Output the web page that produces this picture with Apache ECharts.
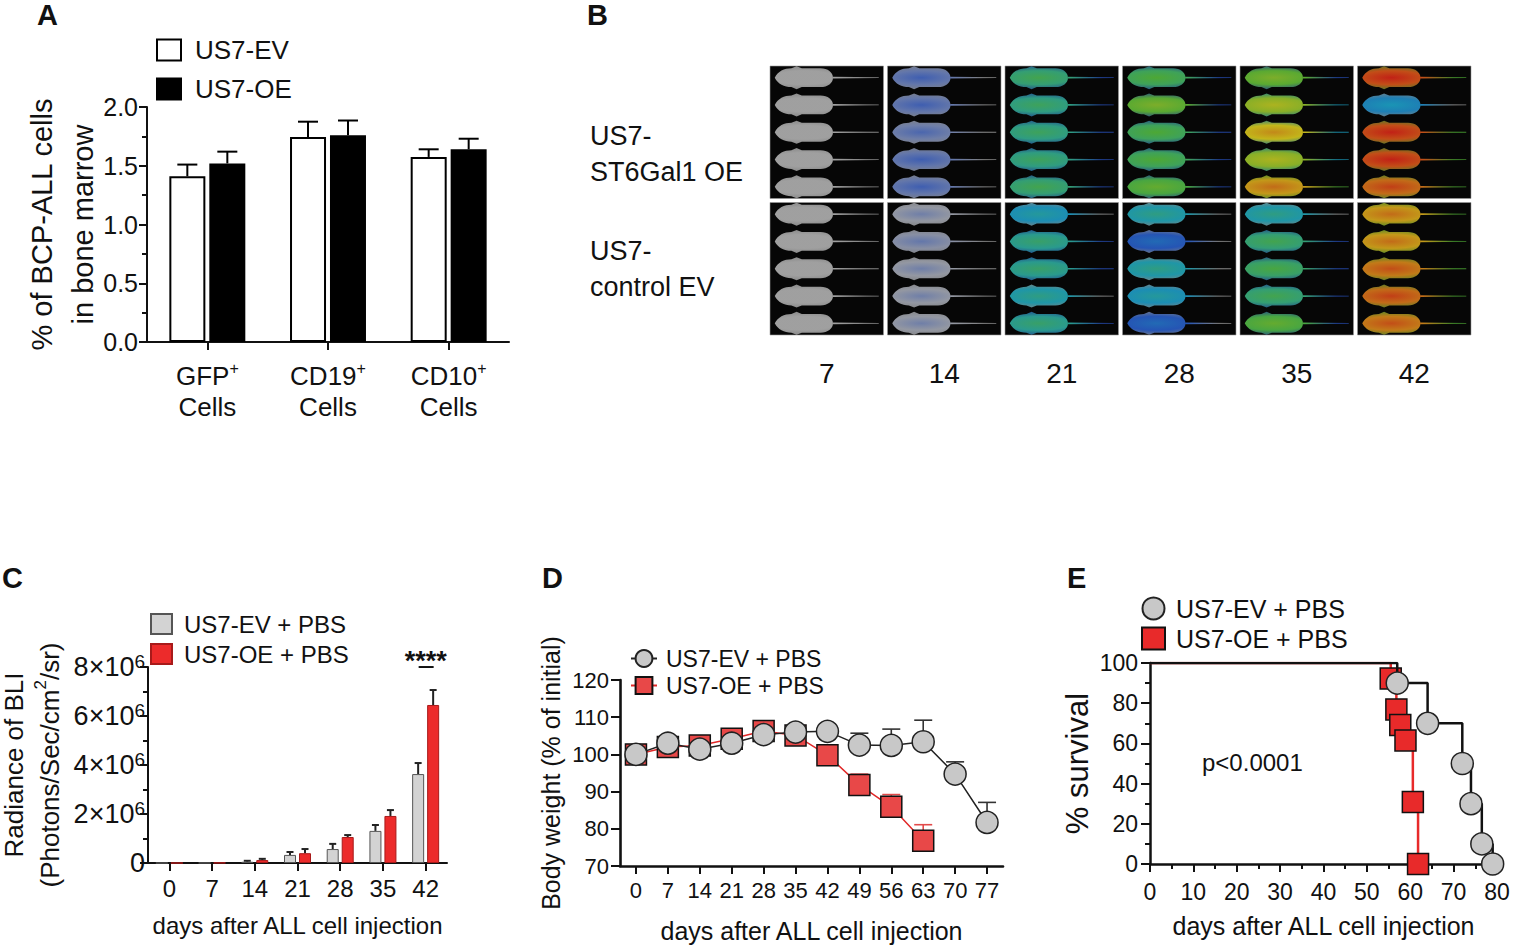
<!DOCTYPE html>
<html><head><meta charset="utf-8">
<script src="https://cdn.jsdelivr.net/npm/echarts@6/dist/echarts.min.js"></script>
<style>html,body{margin:0;padding:0;background:#fff}#c{width:1516px;height:949px}</style>
</head><body><div id="c"></div>
<script>
// ---------- Panel A ----------
const aCategories = ['GFP', 'CD19', 'CD10'];
const aEV = [1.41, 1.745, 1.575];
const aEVErr = [0.10, 0.13, 0.065];
const aOE = [1.52, 1.76, 1.64];
const aOEErr = [0.10, 0.125, 0.09];

// ---------- Panel B (signal intensity score per mouse, 0 = none ... 5 = saturated) ----------
const bDays = ['7', '14', '21', '28', '35', '42'];
const bGroups = ['US7-\ncontrol EV', 'US7-\nST6Gal1 OE'];
const bOE = [
  [0, 0, 0, 0, 0],
  [0.8, 0.8, 0.7, 0.8, 0.8],
  [2.8, 2.7, 2.7, 2.7, 2.8],
  [3.0, 3.4, 3.0, 3.0, 3.2],
  [3.4, 3.8, 4.3, 3.8, 4.5],
  [5.0, 2.0, 5.0, 5.0, 4.8]
];
const bEV = [
  [0, 0, 0, 0, 0],
  [0.4, 0.5, 0.4, 0.4, 0.4],
  [2.2, 2.6, 2.6, 2.4, 2.6],
  [2.4, 1.4, 2.4, 2.2, 1.4],
  [2.4, 2.8, 2.9, 2.8, 3.2],
  [4.5, 4.5, 4.7, 4.8, 4.7]
];

// ---------- Panel C ----------
const cDays = ['0', '7', '14', '21', '28', '35', '42'];
const cEV = [0, 5000, 50000, 330000, 570000, 1310000, 3630000];
const cEVErr = [0, 0, 40000, 120000, 210000, 240000, 450000];
const cOE = [0, 10000, 120000, 400000, 1060000, 1920000, 6450000];
const cOEErr = [0, 0, 50000, 170000, 80000, 240000, 610000];
const cSigIndex = [6];
const cSigText = ['****'];

// ---------- Panel D ----------
const dDays = ['0', '7', '14', '21', '28', '35', '42', '49', '56', '63', '70', '77'];
const dEV = [100, 103, 101.4, 103, 105.3, 106, 106.2, 102.5, 102.4, 103.4, 94.7, 81.7];
const dEVErr = [0.6, 0.8, 0.8, 0.7, 0.8, 0.8, 0.8, 3.2, 4.4, 5.8, 3.3, 5.4];
const dOE = [100, 102, 102.4, 104.2, 106.3, 105.1, 99.8, 91.8, 85.9, 76.8, null, null];
const dOEErr = [0.5, 0.6, 0.6, 0.7, 0.8, 0.8, 1.0, 2.9, 3.3, 4.3, null, null];

// ---------- Panel E ----------
const eEVDays = [0, 57, 64, 72, 74, 76.5, 79];
const eEVSurv = [100, 90, 70, 50, 30, 10, 0];
const eOEDays = [0, 55.5, 56.8, 57.7, 58.9, 60.6, 61.8];
const eOESurv = [100, 92.3, 76.9, 69.2, 61.5, 30.8, 0];

// ---------- helpers ----------
const FONT = "'Liberation Sans', Arial, Helvetica, sans-serif";
const INK = '#111';
const heatStops = ['#c6c6c6', '#2f5fe0', '#1fb8e0', '#5fd040', '#f2e21f', '#f0281a'];
function hex2rgb(h) { return [1, 3, 5].map(i => parseInt(h.substr(i, 2), 16)); }
function mix(a, b, t) {
  const A = hex2rgb(a), B = hex2rgb(b);
  return 'rgb(' + A.map((v, i) => Math.round(v + (B[i] - v) * t)).join(',') + ')';
}
function heatHex(v) {
  v = Math.max(0, Math.min(5, v));
  const i = Math.min(4, Math.floor(v));
  return [heatStops[i], heatStops[i + 1], v - i];
}
function heat(v) { const h = heatHex(v); return mix(h[0], h[1], h[2]); }

function errSeries(xi, yi, means, errs, offset, cap, color, width, z) {
  const data = [];
  means.forEach((m, i) => { if (m != null && errs[i] != null && errs[i] > 0) data.push([i, m, m + errs[i]]); });
  return {
    type: 'custom', xAxisIndex: xi, yAxisIndex: yi, z: z || 3, silent: true,
    encode: { x: 0, y: [1, 2] }, data: data,
    renderItem: function (params, api) {
      const p0 = api.coord([api.value(0), api.value(1)]);
      const p1 = api.coord([api.value(0), api.value(2)]);
      const x = p0[0] + offset;
      return {
        type: 'group', children: [
          { type: 'line', shape: { x1: x, y1: p0[1], x2: x, y2: p1[1] }, style: { stroke: color, lineWidth: width } },
          { type: 'line', shape: { x1: x - cap, y1: p1[1], x2: x + cap, y2: p1[1] }, style: { stroke: color, lineWidth: width } }
        ]
      };
    }
  };
}
const axLine = w => ({ show: true, lineStyle: { color: INK, width: w } });
const axTick = (len, w) => ({ show: true, length: len, lineStyle: { color: INK, width: w } });
const nameFmt = n => n.split('|')[0];

// mice for panel B
const bMice = [];
bDays.forEach((d, di) => {
  bOE[di].forEach((v, k) => bMice.push([di, 9.5 - k, v]));
  bEV[di].forEach((v, k) => bMice.push([di, 4.5 - k, v]));
});
const bMiceItems = bMice.map(m => ({
  value: m,
  itemStyle: {
    color: new echarts.graphic.RadialGradient(0.28, 0.5, 0.6, [
      { offset: 0, color: heat(m[2]) },
      { offset: 0.5, color: heat(Math.max(0, m[2] - 0.3)) },
      { offset: 1, color: mix(heatHex(Math.max(0, m[2] - 1.5))[0], '#000000', 0.2) }
    ])
  }
}));
const bFrames = [];
bDays.forEach((d, di) => bGroups.forEach((g, gi) => bFrames.push([di, gi])));
const MOUSE = 'path://M0,12 C3,6 9,3 16,3 L21,1 L26,3 L44,3 C51,3 56,7 56,12 C56,17 51,21 44,21 L26,21 L21,23 L16,21 C9,21 3,18 0,12 Z M56,11.2 L100,11.6 L100,12.4 L56,12.8 Z';

const chart = echarts.init(document.getElementById('c'), null, { renderer: 'svg', width: 1516, height: 949 });
const panelTitle = (t, l, tp) => ({ text: t, left: l, top: tp, padding: 0, textStyle: { fontSize: 29, fontWeight: 'bold', color: INK, fontFamily: FONT } });

const option = {
  animation: false,
  backgroundColor: '#fff',
  textStyle: { fontFamily: FONT, color: INK },
  title: [
    panelTitle('A', 37, 0), panelTitle('B', 587, 0), panelTitle('C', 2, 563),
    panelTitle('D', 542, 563), panelTitle('E', 1067, 563)
  ],
  legend: [
    { left: 156, top: 37, padding: 0, orient: 'vertical', icon: 'rect', itemWidth: 24, itemHeight: 21, itemGap: 13, selectedMode: false,
      data: ['US7-EV|A', 'US7-OE|A'], formatter: nameFmt,
      textStyle: { fontSize: 26, color: INK, fontFamily: FONT, padding: [0, 0, 0, 9] } },
    { left: 150, top: 612, padding: 0, orient: 'vertical', icon: 'rect', itemWidth: 21, itemHeight: 20, itemGap: 6, selectedMode: false,
      data: ['US7-EV + PBS|C', 'US7-OE + PBS|C'], formatter: nameFmt,
      textStyle: { fontSize: 24, color: INK, fontFamily: FONT, padding: [0, 0, 0, 7] } },
    { left: 630, top: 647, padding: 0, orient: 'vertical', itemWidth: 26, itemHeight: 21, itemGap: 4, selectedMode: false,
      data: ['US7-EV + PBS|D', 'US7-OE + PBS|D'], formatter: nameFmt,
      textStyle: { fontSize: 23, color: INK, fontFamily: FONT, padding: [0, 0, 0, 4] } },
    { left: 1141, top: 596, padding: 0, orient: 'vertical', itemWidth: 23, itemHeight: 22, itemGap: 5, selectedMode: false,
      data: ['US7-EV + PBS|E', 'US7-OE + PBS|E'], formatter: nameFmt,
      textStyle: { fontSize: 25, color: INK, fontFamily: FONT, padding: [0, 0, 0, 6] } }
  ],
  grid: [
    { left: 147, top: 107, width: 362, height: 235 },
    { left: 768, top: 64, width: 705, height: 273 },
    { left: 147, top: 667, width: 300, height: 196 },
    { left: 620, top: 680, width: 383, height: 186 },
    { left: 1150, top: 663, width: 347, height: 201 }
  ],
  xAxis: [
    { gridIndex: 0, type: 'category', data: aCategories, axisLine: axLine(2), axisTick: Object.assign(axTick(8, 2), { alignWithLabel: true }),
      axisLabel: { margin: 18, color: INK, formatter: v => '{a|' + v + '}{s|+}\n{a|Cells}',
        rich: { a: { fontSize: 26, lineHeight: 31, fontFamily: FONT, color: INK }, s: { fontSize: 16, lineHeight: 15, verticalAlign: 'top', fontFamily: FONT, color: INK } } } },
    { gridIndex: 1, type: 'category', data: bDays, axisLine: { show: false }, axisTick: { show: false },
      axisLabel: { margin: 22, fontSize: 28, color: INK, lineHeight: 28 } },
    { gridIndex: 2, type: 'category', data: cDays, axisLine: axLine(2), axisTick: Object.assign(axTick(8, 2), { alignWithLabel: true }),
      axisLabel: { margin: 13, fontSize: 24, lineHeight: 24, color: INK },
      name: 'days after ALL cell injection', nameLocation: 'middle', nameGap: 47,
      nameTextStyle: { fontSize: 24, lineHeight: 30, color: INK, fontFamily: FONT } },
    { gridIndex: 3, type: 'category', data: dDays, axisLine: axLine(2.6), axisTick: Object.assign(axTick(8, 2), { alignWithLabel: true }),
      axisLabel: { margin: 13, fontSize: 22, lineHeight: 22, color: INK, interval: 0 },
      name: 'days after ALL cell injection', nameLocation: 'middle', nameGap: 50,
      nameTextStyle: { fontSize: 25, lineHeight: 30, color: INK, fontFamily: FONT } },
    { gridIndex: 4, type: 'value', min: 0, max: 80, interval: 10, axisLine: axLine(2.5), axisTick: axTick(8, 2),
      minorTick: { show: true, splitNumber: 2, length: 5, lineStyle: { color: INK, width: 2 } }, splitLine: { show: false },
      axisLabel: { margin: 16, fontSize: 23, lineHeight: 23, color: INK },
      name: 'days after ALL cell injection', nameLocation: 'middle', nameGap: 47,
      nameTextStyle: { fontSize: 25, lineHeight: 30, color: INK, fontFamily: FONT } }
  ],
  yAxis: [
    { gridIndex: 0, type: 'value', min: 0, max: 2, interval: 0.5, axisLine: axLine(2), axisTick: axTick(8, 2),
      minorTick: { show: true, splitNumber: 2, length: 5, lineStyle: { color: INK, width: 2 } }, splitLine: { show: false },
      axisLabel: { margin: 9, fontSize: 25, color: INK, formatter: v => v.toFixed(1) },
      name: '% of BCP-ALL cells\nin bone marrow', nameLocation: 'middle', nameGap: 44, nameMoveOverlap: false,
      nameTextStyle: { fontSize: 29, lineHeight: 41, color: INK, fontFamily: FONT } },
    { gridIndex: 1, type: 'category', data: bGroups, axisLine: { show: false }, axisTick: { show: false },
      axisLabel: { align: 'left', margin: 178, color: INK,
        formatter: (v, i) => { const p = v.split('\n'); return (i === 1 ? '{e| }\n' : '') + '{n|' + p[0] + '}\n{n|' + p[1] + '}'; },
        rich: { n: { fontSize: 27, lineHeight: 36, fontFamily: FONT, color: INK },
                e: { fontSize: 10, lineHeight: 44, fontFamily: FONT, color: INK } } } },
    { gridIndex: 1, type: 'value', min: 0, max: 10, show: false },
    { gridIndex: 2, type: 'value', min: 0, max: 8000000, interval: 2000000, axisLine: axLine(2), axisTick: axTick(8, 2),
      minorTick: { show: true, splitNumber: 2, length: 5, lineStyle: { color: INK, width: 2 } }, splitLine: { show: false },
      axisLabel: { margin: 3, fontSize: 27, color: INK,
        formatter: v => v === 0 ? '0' : '{a|' + (v / 1e6) + '×10}{s|6}',
        rich: { a: { fontSize: 27, lineHeight: 30, fontFamily: FONT, color: INK }, s: { fontSize: 19, lineHeight: 16, verticalAlign: 'top', fontFamily: FONT, color: INK } } },
      name: '{n|Radiance of BLI}\n{n|(Photons/Sec/cm}{s|2}{n|/sr)}', nameLocation: 'middle', nameGap: 80,
      nameTextStyle: { color: INK, fontFamily: FONT,
        rich: { n: { fontSize: 26, lineHeight: 36, fontFamily: FONT, color: INK }, s: { fontSize: 17, lineHeight: 17, verticalAlign: 'top', fontFamily: FONT, color: INK } } } },
    { gridIndex: 3, type: 'value', min: 70, max: 120, interval: 10, axisLine: axLine(2.6), axisTick: axTick(9, 2), splitLine: { show: false },
      axisLabel: { margin: 11, fontSize: 22, color: INK },
      name: 'Body weight (% of initial)', nameLocation: 'middle', nameGap: 54,
      nameTextStyle: { fontSize: 25, lineHeight: 30, color: INK, fontFamily: FONT } },
    { gridIndex: 4, type: 'value', min: 0, max: 100, interval: 20, axisLine: axLine(2.5), axisTick: axTick(9, 2),
      minorTick: { show: true, splitNumber: 2, length: 5, lineStyle: { color: INK, width: 2 } }, splitLine: { show: false },
      axisLabel: { margin: 12, fontSize: 23, color: INK },
      name: '% survival', nameLocation: 'middle', nameGap: 51,
      nameTextStyle: { fontSize: 31, lineHeight: 36, color: INK, fontFamily: FONT } }
  ],
  graphic: [
    { type: 'text', left: 1202, top: 750, style: { text: 'p<0.0001', fontSize: 24, fontFamily: FONT, fill: INK } }
  ],
  series: [
    // A
    { type: 'bar', name: 'US7-EV|A', xAxisIndex: 0, yAxisIndex: 0, data: aEV, barWidth: 36, barGap: '11%',
      itemStyle: { color: '#ffffff', borderColor: '#000', borderWidth: 2 } },
    { type: 'bar', name: 'US7-OE|A', xAxisIndex: 0, yAxisIndex: 0, data: aOE, barWidth: 36, barGap: '11%',
      itemStyle: { color: '#000000', borderColor: '#000', borderWidth: 2 } },
    errSeries(0, 0, aEV, aEVErr, -20, 10, '#000', 2, 1),
    errSeries(0, 0, aOE, aOEErr, 20, 10, '#000', 2, 1),
    // B
    { type: 'custom', xAxisIndex: 1, yAxisIndex: 1, data: bFrames, silent: true, z: 1,
      renderItem: function (params, api) {
        const c = api.coord([api.value(0), api.value(1)]);
        const s = api.size([1, 1]);
        return { type: 'rect', shape: { x: c[0] - s[0] / 2 + 2, y: c[1] - s[1] / 2 + 2, width: s[0] - 4, height: s[1] - 4 },
          style: { fill: '#060606', stroke: '#9a9a9a', lineWidth: 0.6 } };
      } },
    { type: 'scatter', xAxisIndex: 1, yAxisIndex: 2, data: bMiceItems, symbol: MOUSE, symbolSize: [104, 23], z: 3, silent: true },
    // C
    { type: 'bar', name: 'US7-EV + PBS|C', xAxisIndex: 2, yAxisIndex: 3, data: cEV, barWidth: 12, barGap: '25%',
      itemStyle: { color: '#d3d3d3', borderColor: '#555', borderWidth: 1 } },
    { type: 'bar', name: 'US7-OE + PBS|C', xAxisIndex: 2, yAxisIndex: 3, data: cOE, barWidth: 12, barGap: '25%',
      itemStyle: { color: '#ec2b2b', borderColor: '#a81a1a', borderWidth: 1 } },
    errSeries(2, 3, cEV, cEVErr, -7.5, 3.5, '#222', 2, 1),
    errSeries(2, 3, cOE, cOEErr, 7.5, 3.5, '#222', 2, 1),
    { type: 'custom', xAxisIndex: 2, yAxisIndex: 3, silent: true, z: 5,
      data: cSigIndex.map((i, k) => [i, Math.max(cEV[i] + cEVErr[i], cOE[i] + cOEErr[i]), k]),
      renderItem: function (params, api) {
        const c = api.coord([api.value(0), api.value(1)]);
        const k = api.value(2);
        return { type: 'group', children: [
          { type: 'line', shape: { x1: c[0] - 7, y1: c[1] - 23, x2: c[0] + 8, y2: c[1] - 23 }, style: { stroke: INK, lineWidth: 2 } },
          { type: 'text', style: { text: cSigText[k], x: c[0], y: c[1] - 29, align: 'center', verticalAlign: 'middle',
            font: 'bold 27px ' + FONT, fill: INK } }
        ] };
      } },
    // D
    errSeries(3, 4, dOE, dOEErr, 0, 9, '#e24a4a', 1.6, 2),
    errSeries(3, 4, dEV, dEVErr, 0, 9, '#333', 1.6, 2),
    { type: 'line', name: 'US7-OE + PBS|D', xAxisIndex: 3, yAxisIndex: 4, data: dOE, symbol: 'rect', symbolSize: 21, z: 3,
      lineStyle: { color: '#e02828', width: 1.5 }, itemStyle: { color: '#e84848', borderColor: '#111', borderWidth: 1.5 } },
    { type: 'line', name: 'US7-EV + PBS|D', xAxisIndex: 3, yAxisIndex: 4, data: dEV, symbol: 'circle', symbolSize: 22, z: 4,
      lineStyle: { color: '#222', width: 1.5 }, itemStyle: { color: '#c8c8c8', borderColor: '#222', borderWidth: 1.5 } },
    // E
    { type: 'line', name: 'oe-step', xAxisIndex: 4, yAxisIndex: 5, step: 'end', showSymbol: false, symbol: 'none', z: 2,
      data: eOEDays.map((d, i) => [d, eOESurv[i]]), lineStyle: { color: '#e82a2a', width: 2.5 } },
    { type: 'scatter', name: 'US7-OE + PBS|E', xAxisIndex: 4, yAxisIndex: 5, symbol: 'rect', symbolSize: 21, z: 3,
      data: eOEDays.map((d, i) => [d, eOESurv[i]]).slice(1), itemStyle: { color: '#e82a2a', borderColor: '#111', borderWidth: 1.5, opacity: 1 } },
    { type: 'line', name: 'ev-step', xAxisIndex: 4, yAxisIndex: 5, step: 'end', showSymbol: false, symbol: 'none', z: 4,
      data: eEVDays.map((d, i) => [d, eEVSurv[i]]), lineStyle: { color: '#111', width: 2.5 } },
    { type: 'scatter', name: 'US7-EV + PBS|E', xAxisIndex: 4, yAxisIndex: 5, symbol: 'circle', symbolSize: 22, z: 5,
      data: eEVDays.map((d, i) => [d, eEVSurv[i]]).slice(1), itemStyle: { color: '#c8c8c8', borderColor: '#222', borderWidth: 1.5, opacity: 1 } }
  ]
};
chart.setOption(option);
</script>
</body></html>
